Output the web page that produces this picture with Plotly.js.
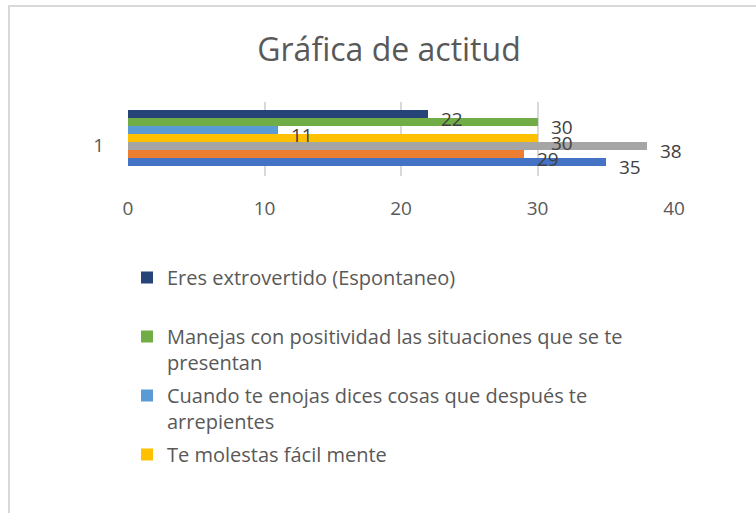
<!DOCTYPE html>
<html>
<head>
<meta charset="utf-8">
<script src="https://cdn.plot.ly/plotly-3.0.1.min.js"></script>
<style>
  html, body { margin: 0; padding: 0; background: #ffffff; overflow: hidden; }
  #frame { position: absolute; left: 8px; top: 5px; width: 780px; height: 540px;
           border-left: 2px solid #d9d9d9; border-top: 2px solid #d9d9d9; box-sizing: border-box; }
  #chart { position: absolute; left: 0; top: 0; width: 756px; height: 513px; }
</style>
</head>
<body>
<div id="frame"></div>
<div id="chart"></div>
<script>
// ---- data ----
var categories = ['1'];
var seriesNames = [
  'Serie 1',
  'Serie 2',
  'Serie 3',
  'Te molestas fácil mente',
  'Cuando te enojas dices cosas que después te<br>arrepientes',
  'Manejas con positividad las situaciones que se te<br>presentan',
  'Eres extrovertido (Espontaneo)<br> '
];
var seriesValues = [35, 29, 38, 30, 11, 30, 22];
var seriesColors = ['#4472C4', '#ED7D31', '#A5A5A5', '#FFC000', '#5B9BD5', '#70AD47', '#264478'];
var showInLegend = [false, false, false, true, true, true, true];
var legendRanks = [7, 6, 5, 4, 3, 2, 1];
var xTicks = [0, 10, 20, 30, 40];

var FONT = '"Open Sans", Lato, sans-serif';
var nS = seriesValues.length;

var traces = seriesValues.map(function (v, i) {
  return {
    type: 'bar',
    orientation: 'h',
    name: seriesNames[i],
    y: categories,
    x: [v],
    marker: { color: seriesColors[i], line: { width: 0 } },
    showlegend: showInLegend[i],
    legendgroup: 'g' + i,
    legendrank: legendRanks[i],
    hoverinfo: 'x+name'
  };
});

// data labels placed at the end of each bar
var annotations = seriesValues.map(function (v, i) {
  return {
    x: v,
    y: -0.5 + (i + 0.5) / nS,
    xref: 'x', yref: 'y',
    text: String(v),
    showarrow: false,
    xanchor: 'left', yanchor: 'middle',
    xshift: 11, yshift: -5,
    font: { family: FONT, size: 19, color: '#404040' }
  };
});

var layout = {
  width: 756, height: 513,
  paper_bgcolor: 'rgba(0,0,0,0)',
  plot_bgcolor: 'rgba(0,0,0,0)',
  margin: { l: 128, r: 82, t: 102, b: 337, pad: 0, autoexpand: false },
  barmode: 'group',
  bargap: 0, bargroupgap: 0,
  title: {
    text: 'Gráfica de actitud',
    x: 389 / 756, xref: 'container', xanchor: 'center',
    y: 1 - 50 / 513, yref: 'container', yanchor: 'middle',
    font: { family: FONT, size: 32, color: '#595959' }
  },
  xaxis: {
    range: [0, 40],
    tickvals: xTicks,
    showgrid: true, gridcolor: '#d9d9d9', gridwidth: 2,
    zeroline: false, showline: false,
    ticks: 'outside', ticklen: 15, tickcolor: 'rgba(0,0,0,0)',
    tickfont: { family: FONT, size: 19, color: '#595959' },
    fixedrange: true
  },
  yaxis: {
    type: 'category',
    range: [-0.679, 0.643],
    showgrid: false, zeroline: false, showline: false,
    ticks: 'outside', ticklen: 19, tickcolor: 'rgba(0,0,0,0)',
    ticklabelshift: 7,
    tickfont: { family: FONT, size: 19, color: '#595959' },
    fixedrange: true
  },
  legend: {
    x: 127 / 756, xref: 'container', xanchor: 'left',
    y: 1 - 258 / 513, yref: 'container', yanchor: 'top',
    traceorder: 'grouped',
    tracegroupgap: 4,
    valign: 'top',
    itemwidth: 30,
    bgcolor: 'rgba(0,0,0,0)',
    font: { family: FONT, size: 20, color: '#595959' }
  },
  annotations: annotations,
  showlegend: true
};

Plotly.newPlot('chart', traces, layout, { displayModeBar: false, staticPlot: true });
</script>
</body>
</html>
